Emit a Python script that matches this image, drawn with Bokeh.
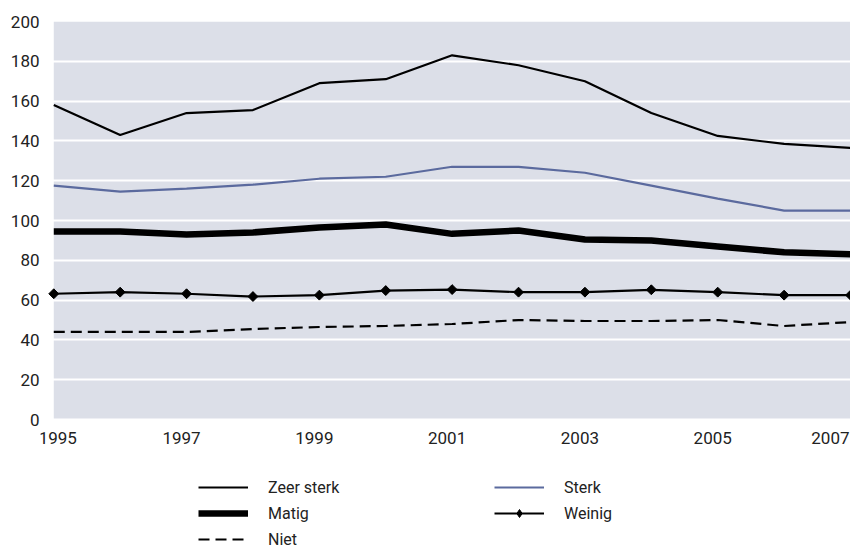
import math
from bokeh.plotting import figure
from bokeh.models import (ColumnDataSource, FixedTicker, Legend, LegendItem, LabelSet, Range1d)
from bokeh.core.properties import value
from bokeh.embed import file_html
from bokeh.resources import INLINE

years = [1995, 1996, 1997, 1998, 1999, 2000, 2001, 2002, 2003, 2004, 2005, 2006, 2007]
zeer_sterk = [158, 143, 154, 155.5, 169, 171, 183, 178, 170, 154, 142.5, 138.5, 136.5]
sterk = [117.5, 114.5, 116, 118, 121, 122, 127, 127, 124, 117.5, 111, 105, 105]
matig = [94.5, 94.5, 93, 94, 96.5, 98, 93.3, 95, 90.5, 90, 87, 84, 83]
weinig = [63.2, 64, 63.2, 61.8, 62.5, 64.8, 65.3, 64, 64, 65.2, 64, 62.5, 62.5]
niet = [44, 44, 44, 45.5, 46.5, 47, 48, 50, 49.5, 49.5, 50, 47, 49]

x_tick_years = [1995, 1997, 1999, 2001, 2003, 2005, 2007]
y_ticks = [0, 20, 40, 60, 80, 100, 120, 140, 160, 180, 200]

FONT = "Roboto"
TEXT = "#222222"
Y_MIN, Y_MAX = 0, 200
Y_LOW = -64.8   # room below the plot area for tick labels and legend
X_PAD = 0.2     # room left of the plot area for the first year label

p = figure(width=850, height=548, output_backend="svg", toolbar_location=None,
           x_range=Range1d(years[0] - X_PAD, years[-1]), y_range=Range1d(Y_LOW, Y_MAX),
           min_border_left=40, min_border_right=0, min_border_top=21, min_border_bottom=0)

p.background_fill_color = "white"
p.border_fill_color = "white"
p.outline_line_color = None

# grey plot area drawn beneath the grid
bg = p.quad(left=[years[0]], right=[years[-1]], bottom=[Y_MIN], top=[Y_MAX],
            fill_color="#dcdfe8", line_color=None, level="image")

p.xgrid.grid_line_color = None
p.ygrid.grid_line_color = "white"
p.ygrid.grid_line_width = 2
p.ygrid.level = "underlay"

p.xaxis.visible = False
p.yaxis.ticker = FixedTicker(ticks=y_ticks)
p.yaxis.axis_line_color = None
p.yaxis.major_tick_line_color = None
p.yaxis.minor_tick_line_color = None
p.yaxis.major_tick_out = 0
p.yaxis.major_tick_in = 0
p.yaxis.major_label_standoff = 1
p.yaxis.major_label_text_font = FONT
p.yaxis.major_label_text_font_size = "17px"
p.yaxis.major_label_text_color = TEXT

src = ColumnDataSource(dict(x=years, zs=zeer_sterk, s=sterk, m=matig, w=weinig, n=niet))

r_zs = p.line("x", "zs", source=src, line_color="black", line_width=2.2)
r_s = p.line("x", "s", source=src, line_color="#5b6a9e", line_width=2.2)
r_m = p.line("x", "m", source=src, line_color="black", line_width=6.5)
r_w = p.line("x", "w", source=src, line_color="black", line_width=2.2)
# small diamond (used for the legend swatch) hidden inside the rotated-square markers
r_wleg = p.scatter("x", "w", source=src, marker="diamond", size=8,
                   fill_color="black", line_color="black")
r_wm = p.scatter("x", "w", source=src, marker="square", angle=math.pi / 4, size=7,
                 fill_color="black", line_color="black")
r_n = p.line("x", "n", source=src, line_color="black", line_width=2.2, line_dash="11 6")

# x tick labels
aligns = ["center"] * len(x_tick_years)
aligns[-1] = "right"
offs = [4] + [-5] * (len(x_tick_years) - 2) + [-1]
lab_src = ColumnDataSource(dict(x=x_tick_years, y=[Y_MIN] * len(x_tick_years),
                                t=[str(v) for v in x_tick_years], a=aligns, o=offs))
labels = LabelSet(x="x", y="y", text="t", source=lab_src, text_align="a",
                  text_baseline="top", x_offset="o", y_offset=-12, text_font=value(FONT),
                  text_font_size=value("17px"), text_color=TEXT)
p.add_layout(labels)

legend = Legend(items=[
    LegendItem(label="Zeer sterk", renderers=[r_zs]),
    LegendItem(label="Matig", renderers=[r_m]),
    LegendItem(label="Niet", renderers=[r_n]),
    LegendItem(label="Sterk", renderers=[r_s]),
    LegendItem(label="Weinig", renderers=[r_w, r_wleg]),
], ncols=2, orientation="vertical", location=(158, -1))
legend.border_line_color = None
legend.background_fill_alpha = 0
legend.padding = 0
legend.margin = 0
legend.spacing = 6
legend.glyph_width = 50
legend.glyph_height = 20
legend.label_height = 20
legend.label_standoff = 20
legend.label_width = 220
legend.label_text_font = FONT
legend.label_text_font_size = "16px"
legend.label_text_color = TEXT
p.add_layout(legend, "center")

open("out.html", "w").write(file_html(p, INLINE))
